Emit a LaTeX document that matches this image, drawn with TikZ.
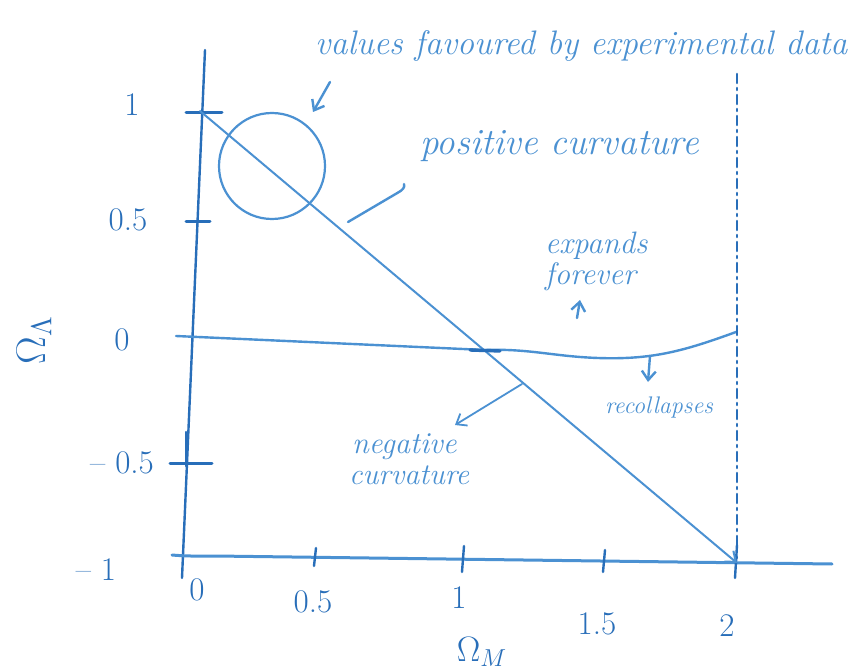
\documentclass[tikz,border=0pt]{standalone}
\usepackage{fontspec}
\usetikzlibrary{arrows.meta}
\definecolor{ink}{RGB}{75,145,210}
\definecolor{inkd}{RGB}{40,110,185}
\begin{document}
\begin{tikzpicture}[x=1pt,y=-1pt,
  pen/.style={draw=ink, line width=2.4pt, line cap=round, line join=round},
  penarrow/.style={pen, -{Straight Barb[length=9pt,width=14pt]}},
  lbl/.style={text=ink, font=\fontsize{34}{38}\selectfont\itshape, inner sep=0pt, anchor=base west},
  num/.style={text=inkd, font=\fontsize{33}{36}\selectfont, inner sep=0pt},
  greek/.style={text=inkd, font=\fontsize{20}{24}\selectfont, inner sep=0pt}]
\useasboundingbox[fill=white] (0,0) rectangle (860,671);

% axes
\coordinate (ytop) at (205,50);
\coordinate (ybot) at (182,578);
\draw[pen, draw=inkd] (ytop) -- (ybot);
\coordinate (xl) at (172,555);
\coordinate (xr) at (832,564);
\draw[pen, line width=3pt] (xl) to[out=-5,in=180] (215,556) -- (xr);

% x ticks
\foreach \n/\x/\a/\b in {t05/316/548/566, t10/464/546/572, t15/605/550/572, t20/737/545/578}{
  \coordinate (\n a) at (\x,\a); \coordinate (\n b) at (\x-2,\b);
  \draw[pen, draw=inkd] (\n a) -- (\n b);
}
% y ticks
\foreach \n/\y/\a/\b in {y10/113/186/222, y05/222/186/210, ym05/463/170/212}{
  \coordinate (\n a) at (\a,\y); \coordinate (\n b) at (\b,\y);
  \draw[pen, draw=inkd, line width=3pt] (\n a) -- (\n b);
}
\coordinate (ymt) at (186,432); \coordinate (ymb) at (186,466);
\draw[pen, draw=inkd] (ymt) -- (ymb);

% tick labels
\node[num] (ly1) at (132,105) {1};
\node[num] (ly05) at (128,220) {0.5};
\node[num] (ly0) at (122,340) {0};
\node[num] (lym05) at (122,463) {– 0.5};
\node[num] (lym1) at (96,570) {– 1};
\node[num] (lx0) at (197,590) {0};
\node[num] (lx05) at (313,602) {0.5};
\node[num] (lx1) at (459,598) {1};
\node[num] (lx15) at (597,624) {1.5};
\node[num] (lx2) at (727,626) {2};
\node[greek, scale=1.7] (om) at (482,652) {$\Omega_M$};
\node[greek, scale=2.0, rotate=90] (ol) at (34,340) {$\Omega_\Lambda$};

% diagonal line (flat universe)
\coordinate (d1) at (200,111);
\coordinate (d2) at (737,563);
\draw[penarrow, line width=2pt] (d1) -- (d2);

% zero (expansion boundary) line
\coordinate (z1) at (176,336);
\coordinate (z2) at (485,350);
\coordinate (z3) at (598,358);
\coordinate (z4) at (736,332);
\draw[pen] (z1) -- (z2) to[out=2,in=178] (z3) to[out=-2,in=200] (z4);
\draw[pen, draw=inkd, line width=3.4pt] (470,350) -- (500,351);

% dash-dot line at Omega_M = 2
\coordinate (v1) at (737,74);
\coordinate (v2) at (737,558);
\draw[pen, draw=inkd, line width=2.6pt, dash pattern=on 9pt off 5pt on 2pt off 5pt] (v1) -- (v2);

% circle of favoured values
\node[draw=ink, line width=2.2pt, circle, minimum size=106pt, inner sep=0pt] (fav) at (272,166) {};

% labels
\node[lbl] (top) at (315,55) {values favoured by experimental data};
\node[lbl, font=\fontsize{37}{40}\selectfont\itshape] (pos) at (420,155) {positive curvature};
\node[lbl, font=\fontsize{31}{34}\selectfont\itshape] (exp) at (545,254) {expands};
\node[lbl, font=\fontsize{31}{34}\selectfont\itshape] (for) at (545,284) {forever};
\node[lbl, font=\fontsize{24}{26}\selectfont\itshape] (rec) at (605,413) {recollapses};
\node[lbl, font=\fontsize{30.5}{34}\selectfont\itshape] (neg) at (352,453) {negative};
\node[lbl, font=\fontsize{30}{34}\selectfont\itshape] (cur) at (349,484) {curvature};

% pointers
\coordinate (a1s) at (330,82); \coordinate (a1e) at (313,112);
\draw[penarrow] (a1s) -- (a1e);
\coordinate (p1) at (348,222); \coordinate (p2) at (399,192); \coordinate (p3) at (404,184);
\draw[pen] (p1) -- (p2) to[out=30,in=-70] (p3);
\coordinate (u1) at (577,318); \coordinate (u2) at (580,300);
\draw[penarrow] (u1) -- (u2);
\coordinate (dn1) at (650,356); \coordinate (dn2) at (648,382);
\draw[penarrow] (dn1) -- (dn2);
\coordinate (n1) at (522,384); \coordinate (n2) at (455,425);
\draw[penarrow, line width=1.8pt] (n1) -- (n2);
\end{tikzpicture}
\end{document}
